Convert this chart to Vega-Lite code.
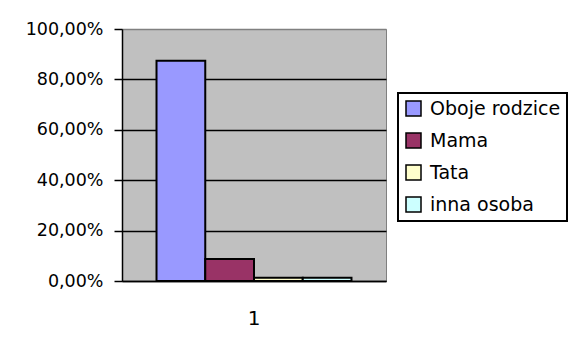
{
  "$schema": "https://vega.github.io/schema/vega-lite/v6.json",
  "width": 264,
  "height": 252,
  "autosize": {"type": "none"},
  "padding": {"left": 122, "top": 29, "right": 189, "bottom": 67},
  "background": "white",
  "data": {
    "values": [
      {"kat": "1", "kto": "Oboje rodzice", "udzial": 0.874},
      {"kat": "1", "kto": "Mama", "udzial": 0.087},
      {"kat": "1", "kto": "Tata", "udzial": 0.013},
      {"kat": "1", "kto": "inna osoba", "udzial": 0.013}
    ]
  },
  "mark": {"type": "bar", "stroke": "black", "strokeWidth": 2, "opacity": 1},
  "encoding": {
    "x": {
      "field": "kat",
      "type": "nominal",
      "scale": {"paddingInner": 0, "paddingOuter": 0.177},
      "axis": {
        "title": null,
        "labelAngle": 0,
        "ticks": false,
        "labelPadding": 27,
        "labelFont": "DejaVu Sans",
        "labelFontSize": 20,
        "labelColor": "black",
        "domainColor": "black",
        "domainWidth": 1.5
      }
    },
    "xOffset": {
      "field": "kto",
      "type": "nominal",
      "sort": ["Oboje rodzice", "Mama", "Tata", "inna osoba"],
      "scale": {"paddingInner": 0, "paddingOuter": 0}
    },
    "y": {
      "field": "udzial",
      "type": "quantitative",
      "scale": {"domain": [0, 1], "nice": false},
      "axis": {
        "title": null,
        "values": [0, 0.2, 0.4, 0.6, 0.8, 1],
        "labelExpr": "replace(format(datum.value, '.2%'), '.', ',')",
        "labelFont": "DejaVu Sans",
        "labelFontSize": 17.5,
        "labelColor": "black",
        "labelPadding": 11,
        "tickSize": 8,
        "tickColor": "black",
        "tickWidth": 1.5,
        "domainColor": "black",
        "domainWidth": 1.5,
        "grid": true,
        "gridColor": {"condition": {"test": "datum.value >= 1", "value": "#808080"}, "value": "black"},
        "gridWidth": 1.5
      }
    },
    "color": {
      "field": "kto",
      "type": "nominal",
      "sort": ["Oboje rodzice", "Mama", "Tata", "inna osoba"],
      "scale": {
        "domain": ["Oboje rodzice", "Mama", "Tata", "inna osoba"],
        "range": ["#9999FF", "#993366", "#FFFFCC", "#CCFFFF"]
      },
      "legend": {
        "title": null,
        "orient": "none",
        "legendX": 276,
        "legendY": 64,
        "symbolType": "square",
        "symbolSize": 225,
        "symbolStrokeColor": "black",
        "symbolStrokeWidth": 1.5,
        "symbolOpacity": 1,
        "labelFont": "DejaVu Sans",
        "labelFontSize": 19,
        "labelColor": "black",
        "labelOffset": 7,
        "rowPadding": 11,
        "padding": 6,
        "strokeColor": "black",
        "fillColor": "white"
      }
    }
  },
  "config": {
    "view": {"fill": "#C0C0C0", "stroke": "#808080", "strokeWidth": 1},
    "legend": {"strokeWidth": 2}
  }
}
